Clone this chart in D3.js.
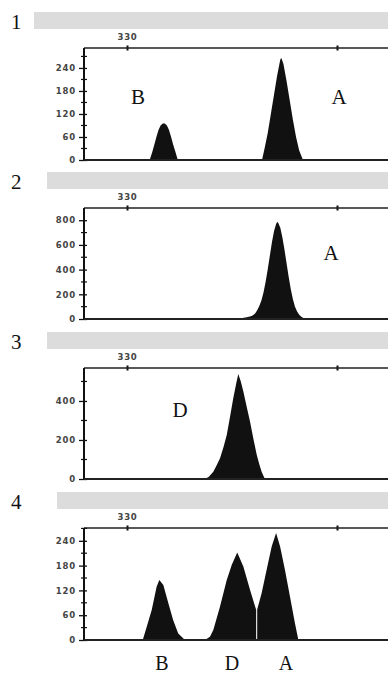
<!DOCTYPE html>
<html>
<head>
<meta charset="utf-8">
<script src="https://cdn.jsdelivr.net/npm/d3@7"></script>
<style>
  body { margin: 0; background: #fff; }
  svg { display: block; }
</style>
</head>
<body>
<div class="container"></div>
<script>
// size axis (bp) ticks on top of each panel
var bpTicks = [330, 340];
var bpLabels = ["330", ""];

// panel 1: B and A peaks
var p1B = [[331.08,0],[331.2,20],[331.3,40],[331.4,60],[331.5,78],[331.6,90],[331.7,95],[331.8,95],[331.9,90],[332.0,78],[332.1,60],[332.2,40],[332.3,22],[332.42,0]];
var p1A = [[336.43,0],[336.55,30],[336.7,70],[336.85,120],[337.0,170],[337.15,220],[337.3,262],[337.35,266],[337.45,250],[337.6,205],[337.75,155],[337.9,105],[338.05,60],[338.2,25],[338.38,0]];

// panel 2: A only
var p2A = [[335.38,0],[335.5,8],[335.7,15],[335.9,22],[336.0,30],[336.1,45],[336.2,70],[336.3,105],[336.4,150],[336.5,215],[336.6,300],[336.7,400],[336.8,510],[336.9,620],[337.0,710],[337.1,770],[337.15,785],[337.2,780],[337.3,740],[337.4,660],[337.5,560],[337.6,450],[337.7,340],[337.8,240],[337.9,160],[338.0,100],[338.1,60],[338.2,35],[338.3,18],[338.4,8],[338.52,0]];

// panel 3: D only
var p3D = [[333.71,0],[333.9,12],[334.11,37],[334.27,70],[334.43,106],[334.6,165],[334.75,226],[334.9,315],[335.06,414],[335.2,490],[335.3,538],[335.42,500],[335.54,448],[335.7,370],[335.86,294],[336.02,205],[336.18,123],[336.3,75],[336.41,37],[336.5,15],[336.57,0]];

// panel 4: B, D and A
var p4B = [[330.75,0],[330.94,32],[331.18,73],[331.41,129],[331.54,145],[331.73,133],[331.97,89],[332.2,48],[332.44,16],[332.76,0]];
var p4D = [[333.71,0],[333.95,8],[334.11,24],[334.43,81],[334.75,145],[334.99,182],[335.25,212],[335.54,178],[335.86,121],[336.1,81],[336.15,73],[336.15,0]];
var p4A = [[336.2,0],[336.2,74],[336.41,113],[336.65,170],[336.89,226],[337.1,259],[337.29,226],[337.52,170],[337.76,105],[338.0,40],[338.16,0]];

var yTicks1 = [0, 60, 120, 180, 240];
var yTicks2 = [0, 200, 400, 600, 800];
var yTicks3 = [0, 200, 400];

var panels = [
  { num: "1", barX: 34, barY: 12, top: 48, bottom: 160, yMax: 292, major: yTicks1, minorStep: 30, peaks: [p1B, p1A],
    labels: [{ t: "B", x: 138, y: 104 }, { t: "A", x: 339, y: 104 }] },
  { num: "2", barX: 47, barY: 172, top: 208, bottom: 319, yMax: 899, major: yTicks2, minorStep: 100, peaks: [p2A],
    labels: [{ t: "A", x: 331, y: 260 }] },
  { num: "3", barX: 47, barY: 332, top: 368, bottom: 479, yMax: 569, major: yTicks3, minorStep: 100, peaks: [p3D],
    labels: [{ t: "D", x: 180, y: 417 }] },
  { num: "4", barX: 57, barY: 492, top: 528, bottom: 640, yMax: 271, major: yTicks1, minorStep: 30, peaks: [p4B, p4D, p4A],
    labels: [] }
];

var bottomLabels = [{ t: "B", x: 162 }, { t: "D", x: 232 }, { t: "A", x: 286 }];

var W = 388, H = 676;
var svg = d3.select(".container").append("svg").attr("width", W).attr("height", H);

var x = d3.scaleLinear().domain([330, 340]).range([127, 337]);
var leftX = 84;
var tickFont = "DejaVu Sans, Verdana, sans-serif";

panels.forEach(function (p) {
  var g = svg.append("g");
  var y = d3.scaleLinear().domain([0, p.yMax]).range([p.bottom, p.top]);

  // grey header bar
  g.append("rect").attr("x", p.barX).attr("y", p.barY).attr("width", W - p.barX).attr("height", 17).attr("fill", "#dcdcdc");

  // panel number
  g.append("text").attr("x", 11).attr("y", p.barY + 17)
    .attr("font-family", "Liberation Serif, Times New Roman, serif").attr("font-size", 21).attr("fill", "#111")
    .text(p.num);

  // peaks
  var area = d3.area().x(function (d) { return x(d[0]); }).y0(y(0)).y1(function (d) { return y(d[1]); });
  p.peaks.forEach(function (pk) {
    g.append("path").datum(pk).attr("d", area).attr("fill", "#111");
  });

  // top axis
  var top = d3.axisTop(x).tickValues(bpTicks).tickSize(3).tickFormat(function (d, i) { return bpLabels[i]; });
  var tg = g.append("g").attr("transform", "translate(0," + p.top + ")").call(top);
  tg.select(".domain").remove();
  g.append("line").attr("x1", leftX).attr("x2", W).attr("y1", p.top).attr("y2", p.top).attr("stroke", "#222").attr("stroke-width", 1.3);
  tg.selectAll(".tick line").attr("stroke", "#111").attr("stroke-width", 2).attr("y1", 2.5).attr("y2", -2.5);
  tg.selectAll(".tick text").attr("font-family", tickFont).attr("font-weight", "bold")
    .attr("font-size", 8.5).attr("letter-spacing", 0.8).attr("fill", "#444").attr("dy", "-0.2em");

  // left axis, major ticks
  var left = d3.axisLeft(y).tickValues(p.major).tickSize(5).tickPadding(3);
  var lg = g.append("g").attr("transform", "translate(" + leftX + ",0)").call(left);
  lg.select(".domain").remove();
  lg.selectAll(".tick line").attr("x2", 3).attr("x1", -5).attr("stroke", "#111").attr("stroke-width", 1.3);
  lg.selectAll(".tick text").attr("font-family", tickFont).attr("font-weight", "bold")
    .attr("font-size", 8.5).attr("letter-spacing", 0.8).attr("fill", "#444");

  // minor ticks
  var minor = d3.range(p.minorStep, p.yMax, p.minorStep).filter(function (v) { return p.major.indexOf(v) < 0; });
  g.selectAll(".minor").data(minor).enter().append("line")
    .attr("x1", leftX - 3).attr("x2", leftX + 3)
    .attr("y1", function (d) { return y(d); }).attr("y2", function (d) { return y(d); })
    .attr("stroke", "#111").attr("stroke-width", 1.2);

  g.append("line").attr("x1", leftX).attr("x2", leftX).attr("y1", p.top).attr("y2", p.bottom + 1).attr("stroke", "#111").attr("stroke-width", 2);
  g.append("line").attr("x1", leftX).attr("x2", W).attr("y1", p.bottom).attr("y2", p.bottom).attr("stroke", "#222").attr("stroke-width", 2);

  // allele letters
  g.selectAll(".lab").data(p.labels).enter().append("text")
    .attr("x", function (d) { return d.x; }).attr("y", function (d) { return d.y; })
    .attr("text-anchor", "middle").attr("font-family", "Liberation Serif, Times New Roman, serif")
    .attr("font-size", 21).attr("fill", "#111").text(function (d) { return d.t; });
});

svg.selectAll(".blab").data(bottomLabels).enter().append("text")
  .attr("x", function (d) { return d.x; }).attr("y", 670)
  .attr("text-anchor", "middle").attr("font-family", "Liberation Serif, Times New Roman, serif")
  .attr("font-size", 20).attr("fill", "#111").text(function (d) { return d.t; });
</script>
</body>
</html>
